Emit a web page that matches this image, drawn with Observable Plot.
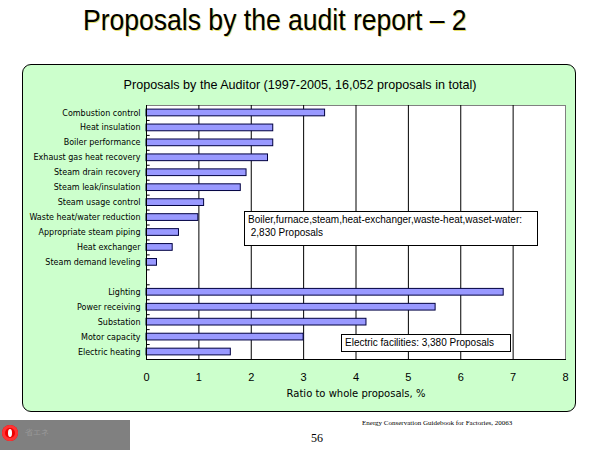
<!DOCTYPE html>
<html><head><meta charset="utf-8">
<script src="https://cdn.jsdelivr.net/npm/d3@7"></script>
<script src="https://cdn.jsdelivr.net/npm/@observablehq/plot@0.6"></script>
<style>
html,body{margin:0;padding:0;background:#fff;}
#page{position:relative;width:600px;height:450px;overflow:hidden;font-family:"Liberation Sans",Arial,sans-serif;}
#title{position:absolute;left:83px;top:4px;font-size:29px;white-space:nowrap;color:#000;text-shadow:1px 1px 0 #e8e070;transform-origin:0 0;transform:scaleX(0.915);}
#panel{position:absolute;left:22px;top:64px;width:552px;height:346px;background:#ccffcc;border:1px solid #000;border-radius:9px;}
#chart{position:absolute;left:22px;top:64px;}
.note{position:absolute;background:#fff;border:1px solid #000;font-size:10px;line-height:13px;padding:1px 3px;white-space:nowrap;}
#footer{position:absolute;left:0;top:420px;width:130px;height:30px;background:#808080;}
#logo{position:absolute;left:2px;top:425px;width:16px;height:16px;border-radius:50%;background:#e00;box-shadow:inset 0 0 0 3px #f33;}
#logo2{position:absolute;left:8px;top:429px;width:4px;height:8px;border-radius:50%;background:#fff;}
#logotext{position:absolute;left:25px;top:427px;font-size:8px;color:#9a9a9a;}
#src{position:absolute;left:362px;top:419px;font-family:"Liberation Serif",serif;font-size:7px;color:#000;}
#pg{position:absolute;left:311px;top:431px;font-family:"Liberation Serif",serif;font-size:12px;color:#000;}
</style></head>
<body><div id="page">
<div id="title">Proposals by the audit report – 2</div>
<div id="panel"></div>
<div id="chart"></div>
<div class="note" style="left:244px;top:211px;width:286px;height:31px;">Boiler,furnace,steam,heat-exchanger,waste-heat,waset-water:<br>&nbsp;2,830 Proposals</div>
<div class="note" style="left:341px;top:334px;width:162px;height:14px;">Electric facilities: 3,380 Proposals</div>
<div id="footer"></div><div id="logo"></div><div id="logo2"></div><div id="logotext">省エネ</div>
<div id="src">Energy Conservation Guidebook for Factories, 20063</div>
<div id="pg">56</div>
</div>
<script>
const boilerCategories = ["Combustion control","Heat insulation","Boiler performance","Exhaust gas heat recovery","Steam drain recovery","Steam leak/insulation","Steam usage control","Waste heat/water reduction","Appropriate steam piping","Heat exchanger","Steam demand leveling"];
const boilerValues = [3.41,2.42,2.42,2.32,1.91,1.80,1.10,0.99,0.62,0.50,0.20];
const electricCategories = ["Lighting","Power receiving","Substation","Motor capacity","Electric heating"];
const electricValues = [6.82,5.52,4.20,3.00,1.61];
const xTicks = [0,1,2,3,4,5,6,7,8];
const gap = " ";

const data = [
  ...boilerCategories.map((c,i)=>({cat:c, value:boilerValues[i]})),
  ...electricCategories.map((c,i)=>({cat:c, value:electricValues[i]}))
];
const domain = [...boilerCategories, gap, ...electricCategories];

const W = 554, H = 348, mT = 41, mB = 53;
const step = (H - mT - mB) / domain.length;

const chart = Plot.plot({
  width: W, height: H,
  marginLeft: 124, marginRight: 11, marginTop: mT, marginBottom: mB,
  style: {background: "transparent", fontFamily: "'DejaVu Sans', sans-serif", fontSize: "8px", color: "#000"},
  x: {domain: [0, 8], ticks: xTicks, label: null},
  y: {domain, paddingInner: 0.55, paddingOuter: 0.275, round: false, label: null},
  marks: [
    Plot.frame({fill: "#fff", stroke: "#808080"}),
    Plot.ruleX(xTicks.slice(1, -1), {stroke: "#000", strokeWidth: 1}),
    Plot.ruleY(domain.slice(1), {y: d => d, x1: 0, x2: 0.07, dy: -step / 2, stroke: "#000"}),
    Plot.barX(data, {x: "value", y: "cat", fill: "#9999ff", stroke: "#000040", strokeWidth: 1}),
    Plot.axisY({tickSize: 0, tickPadding: 6, tickFormat: d => d === gap ? "" : d, fontSize: 8}),
    Plot.ruleX([0], {stroke: "#000"}),
    Plot.frame({anchor: "bottom", stroke: "#000"}),
    Plot.axisX({ticks: xTicks, tickSize: 0, tickPadding: 14, fontSize: 11, fontFamily: "'Liberation Sans', Arial, sans-serif"}),
    Plot.text(["Ratio to whole proposals, %"], {frameAnchor: "bottom", dy: 37, fontSize: 10, fontFamily: "'DejaVu Sans', sans-serif"}),
    Plot.text(["Proposals by the Auditor (1997-2005, 16,052 proposals in total)"], {frameAnchor: "top", dy: -25, dx: -56, fontSize: 12.6, fontFamily: "'Liberation Sans', Arial, sans-serif"})
  ]
});
document.getElementById("chart").appendChild(chart);
</script>
</body></html>
